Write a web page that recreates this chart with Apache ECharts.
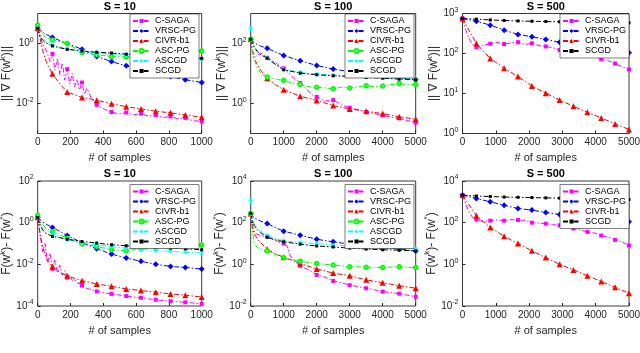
<!DOCTYPE html>
<html>
<head>
<meta charset="utf-8">
<script src="https://cdn.jsdelivr.net/npm/echarts@6/dist/echarts.min.js"></script>
<style>
html, body { margin: 0; padding: 0; background: #fff; }
#main { width: 640px; height: 353px; }
</style>
</head>
<body>
<div id="main"></div>
<script>
// 方法名称
var names = ['C-SAGA', 'VRSC-PG', 'CIVR-b1', 'ASC-PG', 'ASCGD', 'SCGD'];
var names4 = ['C-SAGA', 'VRSC-PG', 'CIVR-b1', 'SCGD'];

// 采样位置 (# of samples)
var xS10 = [0, 15, 30, 45, 60, 90, 135, 180, 270, 360, 450, 540, 630, 720, 810, 900, 1000];
var xN10 = [0, 15, 30, 45, 60, 75, 90, 105, 120, 135, 150, 165, 180, 195, 210, 225, 240, 255, 270, 285, 300,
            330, 360, 405, 450, 495, 540, 585, 630, 675, 720, 765, 810, 855, 900, 945, 1000];
var xS100 = [0, 50, 100, 200, 300, 500, 750, 1000, 1500, 2000, 2500, 3000, 3500, 4000, 4500, 5000];
var xN100 = [0, 50, 100, 150, 200, 300, 400, 500, 600, 700, 800, 900, 1000, 1100, 1200, 1300, 1400, 1500,
             1600, 1700, 1800, 1900, 2000, 2250, 2500, 2750, 3000, 3250, 3500, 3750, 4000, 4250, 4500, 4750, 5000];
var xS500 = [0, 417, 833, 1250, 1667, 2083, 2500, 2917, 3333, 3750, 4167, 4583, 5000];
var xN500 = [0, 104, 208, 313, 417, 625, 833, 1042, 1250, 1458, 1667, 1875, 2083, 2292, 2500, 2708, 2917,
             3125, 3333, 3542, 3750, 3958, 4167, 4375, 4583, 4792, 5000];

// 标记点位置
var m10 = [0, 90, 180, 270, 360, 450, 540, 630, 720, 810, 900, 1000];
var m100 = [0, 500, 1000, 1500, 2000, 2500, 3000, 3500, 4000, 4500, 5000];
var m500 = [0, 417, 833, 1250, 1667, 2083, 2500, 2917, 3333, 3750, 4167, 4583, 5000];

// ||grad F(w^k)||, S = 10
var g10_csaga = [3.2, 1.6, 1.0, 0.7, 0.45, 0.25, 0.45, 0.13, 0.32, 0.09, 0.22, 0.06, 0.14, 0.045, 0.1, 0.035, 0.065, 0.028, 0.05, 0.02, 0.032,
                 0.014, 0.009, 0.0065, 0.0052, 0.0045, 0.005, 0.0042, 0.0046, 0.0038, 0.0041, 0.0034, 0.0037, 0.0031, 0.0033, 0.0027, 0.0025];
var g10_vrsc = [3.2, 2.8, 2.4, 2.1, 1.9, 1.6, 1.25, 1.0, 0.64, 0.37, 0.25, 0.18, 0.13, 0.10, 0.079, 0.062, 0.05];
var g10_civr = [3.2, 1.45, 0.6, 0.32, 0.195, 0.098, 0.045, 0.024, 0.016, 0.0129, 0.0098, 0.0078, 0.0066, 0.0055, 0.0049, 0.0041, 0.0035];
var g10_ascpg = [4.1, 2.6, 2.0, 1.7, 1.5, 1.3, 1.15, 1.0, 0.5, 0.42, 0.37, 0.35, 0.39, 0.42, 0.45, 0.5, 0.56];
var g10_ascgd = [3.2, 2.0, 1.5, 1.25, 1.1, 0.9, 0.75, 0.66, 0.55, 0.49, 0.45, 0.42, 0.40, 0.38, 0.36, 0.34, 0.30];
var g10_scgd = [3.2, 1.7, 1.3, 1.1, 1.0, 0.83, 0.72, 0.64, 0.56, 0.51, 0.48, 0.44, 0.42, 0.40, 0.37, 0.35, 0.32];

// ||grad F(w^k)||, S = 100
var g100_csaga = [138, 60, 45, 37, 40, 48, 42, 33, 30, 25, 21, 17, 15, 11.5, 9.1, 7.0, 5.9, 4.8,
                  3.9, 2.9, 2.3, 1.8, 1.66, 1.2, 1.3, 0.9, 0.72, 0.62, 0.52, 0.46, 0.4, 0.35, 0.32, 0.27, 0.23];
var g100_vrsc = [138, 120, 108, 92, 82, 69, 52, 40, 26.5, 18.5, 14, 11.6, 9.8, 8.4, 7.4, 6.2];
var g100_civr = [138, 55, 32, 20, 13, 7.0, 4.2, 2.9, 1.74, 1.26, 0.85, 0.66, 0.55, 0.46, 0.36, 0.30];
var g100_ascpg = [138, 60, 37, 22, 15, 10.3, 8.5, 7.6, 7.0, 6.8, 6.4, 6.1, 5.9, 5.5, 5.0, 4.8, 4.5, 4.3,
                  4.0, 3.7, 3.6, 3.4, 3.5, 3.3, 3.1, 3.5, 3.3, 3.6, 3.9, 3.6, 3.8, 4.2, 4.6, 4.2, 4.3];
var g100_ascgd = [316, 130, 85, 57, 45, 34, 20, 14, 10.8, 9.5, 8.8, 8.4, 7.8, 7.2, 6.8, 6.5];
var g100_scgd = [138, 100, 78, 54, 42, 32.5, 20, 13.3, 10.3, 9.1, 8.4, 8.0, 7.4, 7.0, 6.5, 6.2];

// ||grad F(w^k)||, S = 500
var g500_csaga = [750, 380, 230, 160, 142, 160, 175, 190, 172, 185, 192, 168, 180, 158, 150, 140, 122,
                  110, 115, 104, 98, 88, 72, 66, 56, 47, 40];
var g500_vrsc = [750, 640, 512, 384, 300, 262, 225, 190, 169, 148, 135, 123, 105];
var g500_civr = [750, 178, 75, 43, 26.5, 15.5, 10.2, 6.9, 4.8, 3.4, 2.45, 1.74, 1.26];
var g500_scgd = [750, 720, 690, 670, 650, 640, 630, 620, 610, 600, 595, 590, 585];

// F(w^k) - F(w*), S = 10
var f10_csaga = [1.8, 0.25, 0.04, 0.1, 0.012, 0.035, 0.006, 0.016, 0.004, 0.009, 0.003, 0.005, 0.0023, 0.003, 0.0017, 0.0019, 0.0013, 0.0012, 0.00095, 0.0008, 0.0007,
                 0.0006, 0.0005, 0.00043, 0.00038, 0.00034, 0.0003, 0.00027, 0.00025, 0.00022, 0.0002, 0.00018, 0.00017, 0.00016, 0.00015, 0.00014, 0.000126];
var f10_vrsc = [1.8, 1.4, 1.1, 0.9, 0.78, 0.59, 0.38, 0.24, 0.11, 0.056, 0.031, 0.02, 0.014, 0.010, 0.0079, 0.0071, 0.0059];
var f10_civr = [1.8, 0.26, 0.073, 0.029, 0.015, 0.0079, 0.004, 0.0028, 0.00165, 0.00114, 0.00088, 0.00066, 0.00055, 0.00046, 0.00038, 0.00033, 0.00027];
var f10_ascpg = [2.3, 1.2, 0.8, 0.6, 0.5, 0.38, 0.26, 0.18, 0.094, 0.072, 0.05, 0.045, 0.055, 0.062, 0.066, 0.072, 0.085];
var f10_ascgd = [1.8, 0.9, 0.6, 0.45, 0.38, 0.3, 0.2, 0.15, 0.11, 0.085, 0.07, 0.06, 0.052, 0.046, 0.042, 0.038, 0.035];
var f10_scgd = [1.8, 0.75, 0.45, 0.33, 0.28, 0.22, 0.19, 0.16, 0.125, 0.105, 0.087, 0.078, 0.072, 0.068, 0.06, 0.055, 0.05];

// F(w^k) - F(w*), S = 100
var f100_csaga = [275, 80, 40, 30, 27, 24, 22, 21, 18, 14.5, 13, 11, 10, 8, 2.5, 1.6, 1.2, 0.85,
                  0.7, 0.6, 0.5, 0.4, 0.31, 0.24, 0.16, 0.13, 0.1, 0.085, 0.071, 0.06, 0.049, 0.044, 0.039, 0.033, 0.028];
var f100_vrsc = [275, 200, 170, 140, 118, 91, 58, 39, 25, 16, 12, 9.3, 7.6, 6.3, 5.4, 4.4];
var f100_civr = [275, 60, 30, 17, 11, 5.3, 3.2, 2.2, 1.1, 0.6, 0.38, 0.28, 0.18, 0.13, 0.095, 0.071];
var f100_ascpg = [275, 40, 12, 8.5, 6.5, 5.5, 5.0, 4.4, 3.8, 3.2, 2.8, 2.4, 2.1, 1.9, 1.7, 1.6, 1.5, 1.4,
                  1.3, 1.25, 1.2, 1.15, 1.1, 1.0, 0.93, 0.85, 0.77, 0.75, 0.73, 0.71, 0.7, 0.74, 0.77, 0.72, 0.7];
var f100_ascgd = [1200, 150, 90, 55, 40, 24, 17, 13.5, 11, 10, 8.4, 7.6, 7.0, 6.5, 6.0, 5.8];
var f100_scgd = [275, 120, 75, 45, 33, 20, 15, 12, 9.3, 7.6, 6.8, 6.0, 5.4, 5.0, 4.8, 4.4];

// F(w^k) - F(w*), S = 500
var f500_csaga = [2100, 700, 300, 170, 140, 112, 125, 135, 125, 140, 135, 128, 100, 95, 90, 80, 75,
                  68, 52, 45, 36, 32, 24, 20, 15, 12, 8];
var f500_vrsc = [2100, 1440, 1000, 690, 480, 400, 310, 245, 215, 178, 158, 140, 110];
var f500_civr = [2100, 215, 59, 22, 10, 4.5, 2.1, 1.0, 0.54, 0.28, 0.15, 0.079, 0.041];
var f500_scgd = [2100, 1900, 1800, 1700, 1650, 1600, 1550, 1500, 1450, 1400, 1380, 1350, 1300];

var FONT = 'Liberation Sans, Arial, DejaVu Sans, sans-serif';
var TXT = '#262626';
var COLORS = {
    'C-SAGA': '#ff00ff', 'VRSC-PG': '#0000ff', 'CIVR-b1': '#ff0000',
    'ASC-PG': '#00ff00', 'ASCGD': '#00ffff', 'SCGD': '#000000'
};
// 星号
var STAR = 'path://M-0.7,-5L0.7,-5L0.7,5L-0.7,5Z M-5,-0.7L5,-0.7L5,0.7L-5,0.7Z M-4,-3L-3,-4L4,3L3,4Z M3,-4L4,-3L-3,4L-4,3Z';
var SYM = {
    'C-SAGA': ['rect', 4], 'VRSC-PG': ['diamond', 6], 'CIVR-b1': ['triangle', 6],
    'ASC-PG': ['emptyCircle', 3.5], 'ASCGD': [STAR, 5], 'SCGD': ['rect', 3]
};

function line(name, gi, xs, ys, marks) {
    var s = SYM[name];
    return {
        name: name,
        type: 'line',
        xAxisIndex: gi,
        yAxisIndex: gi,
        symbol: s[0],
        symbolSize: s[1],
        showAllSymbol: true,
        lineStyle: { color: COLORS[name], width: 1, type: [5, 2, 1.5, 2] },
        itemStyle: { color: COLORS[name], borderColor: COLORS[name], borderWidth: name === 'ASC-PG' ? 1 : 0 },
        emphasis: { disabled: true },
        data: xs.map(function (x, i) {
            return { value: [x, ys[i]], symbol: marks.indexOf(x) >= 0 ? s[0] : 'none' };
        })
    };
}

var RICH = {
    b: { fontSize: 10, lineHeight: 10, color: TXT, fontFamily: FONT, verticalAlign: 'bottom' },
    s: { fontSize: 7, lineHeight: 7, color: TXT, fontFamily: FONT, verticalAlign: 'bottom', padding: [0, 0, 5, 0] }
};
var NAMERICH = {
    n: { fontSize: 12, lineHeight: 12, color: TXT, fontFamily: FONT, verticalAlign: 'bottom' },
    s: { fontSize: 8, lineHeight: 8, color: TXT, fontFamily: FONT, verticalAlign: 'bottom', padding: [0, 0, 6, 0] }
};
function powLabel(v) {
    var e = Math.round(Math.log(v) / Math.LN10);
    return '{b|10}{s|' + e + '}';
}

// 子图布局
var cols = [[37.7, 164], [250.7, 165], [462.5, 166.5]];
var rows = [[13.5, 120], [181, 125]];
var xMax = [1000, 5000, 5000];
var xInt = [200, 1000, 1000];
var yRange = [[1e-3, 10], [0.1, 1000], [1, 1000], [1e-4, 100], [0.01, 10000], [0.01, 10000]];
var yLabels = [[0.01, 1], [1, 100], [1, 10, 100, 1000], [1e-4, 0.01, 1, 100], [0.01, 1, 100, 10000], [0.01, 1, 100, 10000]];
var yName = ['{n||| ∇ F(w}{s|k}{n|)||}', '{n|F(w}{s|k}{n|)- F(w}{s|*}{n|)}'];
var titles = ['S = 10', 'S = 100', 'S = 500'];

var grids = [], xAxes = [], yAxes = [], legends = [], graphics = [];
for (var r = 0; r < 2; r++) {
    for (var c = 0; c < 3; c++) {
        var gi = r * 3 + c;
        grids.push({
            left: cols[c][0], top: rows[r][0], width: cols[c][1], height: rows[r][1],
            show: true, borderColor: '#3a3a3a', borderWidth: 1, backgroundColor: 'transparent',
            outerBoundsMode: 'none', containLabel: false
        });
        xAxes.push({
            type: 'value', gridIndex: gi, min: 0, max: xMax[c], interval: xInt[c],
            axisLine: { show: false }, splitLine: { show: false },
            axisTick: { inside: true, length: 3, lineStyle: { color: TXT } },
            axisLabel: {
                fontSize: 10, margin: 4, color: TXT, fontFamily: FONT,
                formatter: function (v) { return String(v); }
            },
            name: '# of samples', nameLocation: 'middle', nameGap: 19,
            nameTextStyle: { fontSize: 11, color: TXT, fontFamily: FONT }
        });
        yAxes.push({
            type: 'log', logBase: 10, gridIndex: gi, min: yRange[gi][0], max: yRange[gi][1],
            axisLine: { show: false }, splitLine: { show: false }, minorTick: { show: false },
            axisTick: { inside: true, length: 3, lineStyle: { color: TXT }, customValues: yLabels[gi] },
            axisLabel: { customValues: yLabels[gi], margin: 4, formatter: powLabel, rich: RICH },
            name: yName[r], nameLocation: 'middle', nameGap: 19,
            nameTextStyle: { rich: NAMERICH }
        });
        legends.push({
            orient: 'vertical',
            right: [441, 226, 11][c],
            top: r === 0 ? 14 : 184.5,
            data: c === 2 ? names4 : names,
            itemWidth: 17, itemHeight: 5, itemGap: 0,
            padding: [2, 3, 2, 2],
            backgroundColor: '#fff', borderColor: '#262626', borderWidth: 0.6,
            selectedMode: false,
            textStyle: { fontSize: 9, lineHeight: 10, color: '#000', fontFamily: FONT }
        });
        graphics.push({
            type: 'text',
            x: cols[c][0] + cols[c][1] / 2,
            y: rows[r][0] - 7,
            style: {
                text: titles[c], textAlign: 'center', textVerticalAlign: 'middle',
                font: 'bold 11px ' + FONT, fill: '#000'
            }
        });
    }
}

var series = [
    line('C-SAGA', 0, xN10, g10_csaga, m10),
    line('VRSC-PG', 0, xS10, g10_vrsc, m10),
    line('CIVR-b1', 0, xS10, g10_civr, m10),
    line('ASC-PG', 0, xS10, g10_ascpg, m10),
    line('ASCGD', 0, xS10, g10_ascgd, m10),
    line('SCGD', 0, xS10, g10_scgd, m10),

    line('C-SAGA', 1, xN100, g100_csaga, m100),
    line('VRSC-PG', 1, xS100, g100_vrsc, m100),
    line('CIVR-b1', 1, xS100, g100_civr, m100),
    line('ASC-PG', 1, xN100, g100_ascpg, m100),
    line('ASCGD', 1, xS100, g100_ascgd, m100),
    line('SCGD', 1, xS100, g100_scgd, m100),

    line('C-SAGA', 2, xN500, g500_csaga, m500),
    line('VRSC-PG', 2, xS500, g500_vrsc, m500),
    line('CIVR-b1', 2, xS500, g500_civr, m500),
    line('SCGD', 2, xS500, g500_scgd, m500),

    line('C-SAGA', 3, xN10, f10_csaga, m10),
    line('VRSC-PG', 3, xS10, f10_vrsc, m10),
    line('CIVR-b1', 3, xS10, f10_civr, m10),
    line('ASC-PG', 3, xS10, f10_ascpg, m10),
    line('ASCGD', 3, xS10, f10_ascgd, m10),
    line('SCGD', 3, xS10, f10_scgd, m10),

    line('C-SAGA', 4, xN100, f100_csaga, m100),
    line('VRSC-PG', 4, xS100, f100_vrsc, m100),
    line('CIVR-b1', 4, xS100, f100_civr, m100),
    line('ASC-PG', 4, xN100, f100_ascpg, m100),
    line('ASCGD', 4, xS100, f100_ascgd, m100),
    line('SCGD', 4, xS100, f100_scgd, m100),

    line('C-SAGA', 5, xN500, f500_csaga, m500),
    line('VRSC-PG', 5, xS500, f500_vrsc, m500),
    line('CIVR-b1', 5, xS500, f500_civr, m500),
    line('SCGD', 5, xS500, f500_scgd, m500)
];

var myChart = echarts.init(document.getElementById('main'), null, { renderer: 'canvas' });
myChart.setOption({
    backgroundColor: '#fff',
    animation: false,
    grid: grids,
    xAxis: xAxes,
    yAxis: yAxes,
    legend: legends,
    graphic: graphics,
    series: series
});
</script>
</body>
</html>
